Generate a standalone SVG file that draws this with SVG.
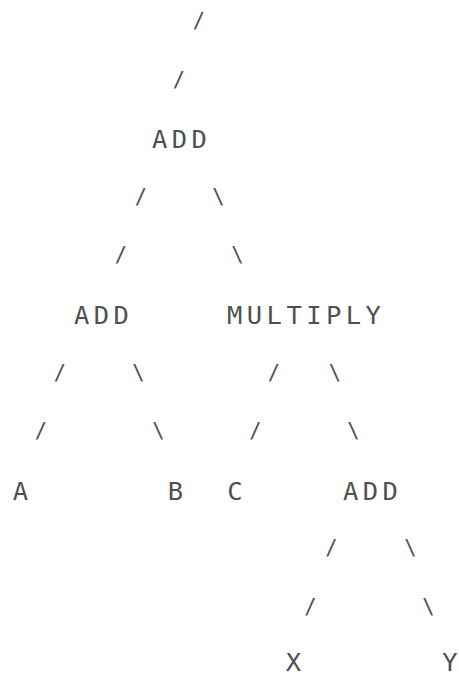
<svg xmlns="http://www.w3.org/2000/svg" width="459" height="677" viewBox="0 0 459 677">
<style>
.lbl{font-family:"DejaVu Sans Mono","Liberation Mono",monospace;font-size:25.5px;fill:#505050;text-anchor:middle}
.sl{font-family:"DejaVu Sans Mono","Liberation Mono",monospace;font-size:20.4px;fill:#505050;text-anchor:middle}
</style>
<rect width="459" height="677" fill="#ffffff"/>
<g id="connectors">
<text class="sl" x="199" y="28">/</text>
<text class="sl" x="179" y="86.6">/</text>
<text class="sl" x="141" y="203.8">/</text>
<text class="sl" x="218.5" y="203.8">\</text>
<text class="sl" x="121" y="262.4">/</text>
<text class="sl" x="237.5" y="262.4">\</text>
<text class="sl" x="60" y="379.6">/</text>
<text class="sl" x="138.5" y="379.6">\</text>
<text class="sl" x="274" y="379.6">/</text>
<text class="sl" x="335" y="379.6">\</text>
<text class="sl" x="41" y="438.2">/</text>
<text class="sl" x="158.5" y="438.2">\</text>
<text class="sl" x="255.5" y="438.2">/</text>
<text class="sl" x="353.5" y="438.2">\</text>
<text class="sl" x="331.5" y="555.4">/</text>
<text class="sl" x="410.5" y="555.4">\</text>
<text class="sl" x="310.5" y="614">/</text>
<text class="sl" x="428.5" y="614">\</text>
</g>
<g id="node-add-root"><text class="lbl" x="159.7 179.5 199.3" y="148.2">ADD</text></g>
<g id="node-add-left"><text class="lbl" x="81.7 101.5 121.3" y="324">ADD</text></g>
<g id="node-multiply"><text class="lbl" x="234.7 254.5 274.3 294.1 313.9 333.7 353.5 373.3" y="324">MULTIPLY</text></g>
<g id="node-a"><text class="lbl" x="20.5" y="499.8">A</text></g>
<g id="node-b"><text class="lbl" x="175.5" y="499.8">B</text></g>
<g id="node-c"><text class="lbl" x="235" y="499.8">C</text></g>
<g id="node-add-right"><text class="lbl" x="350.7 370.5 390.3" y="499.8">ADD</text></g>
<g id="node-x"><text class="lbl" x="293.5" y="671">X</text></g>
<g id="node-y"><text class="lbl" x="450" y="671">Y</text></g>
</svg>
